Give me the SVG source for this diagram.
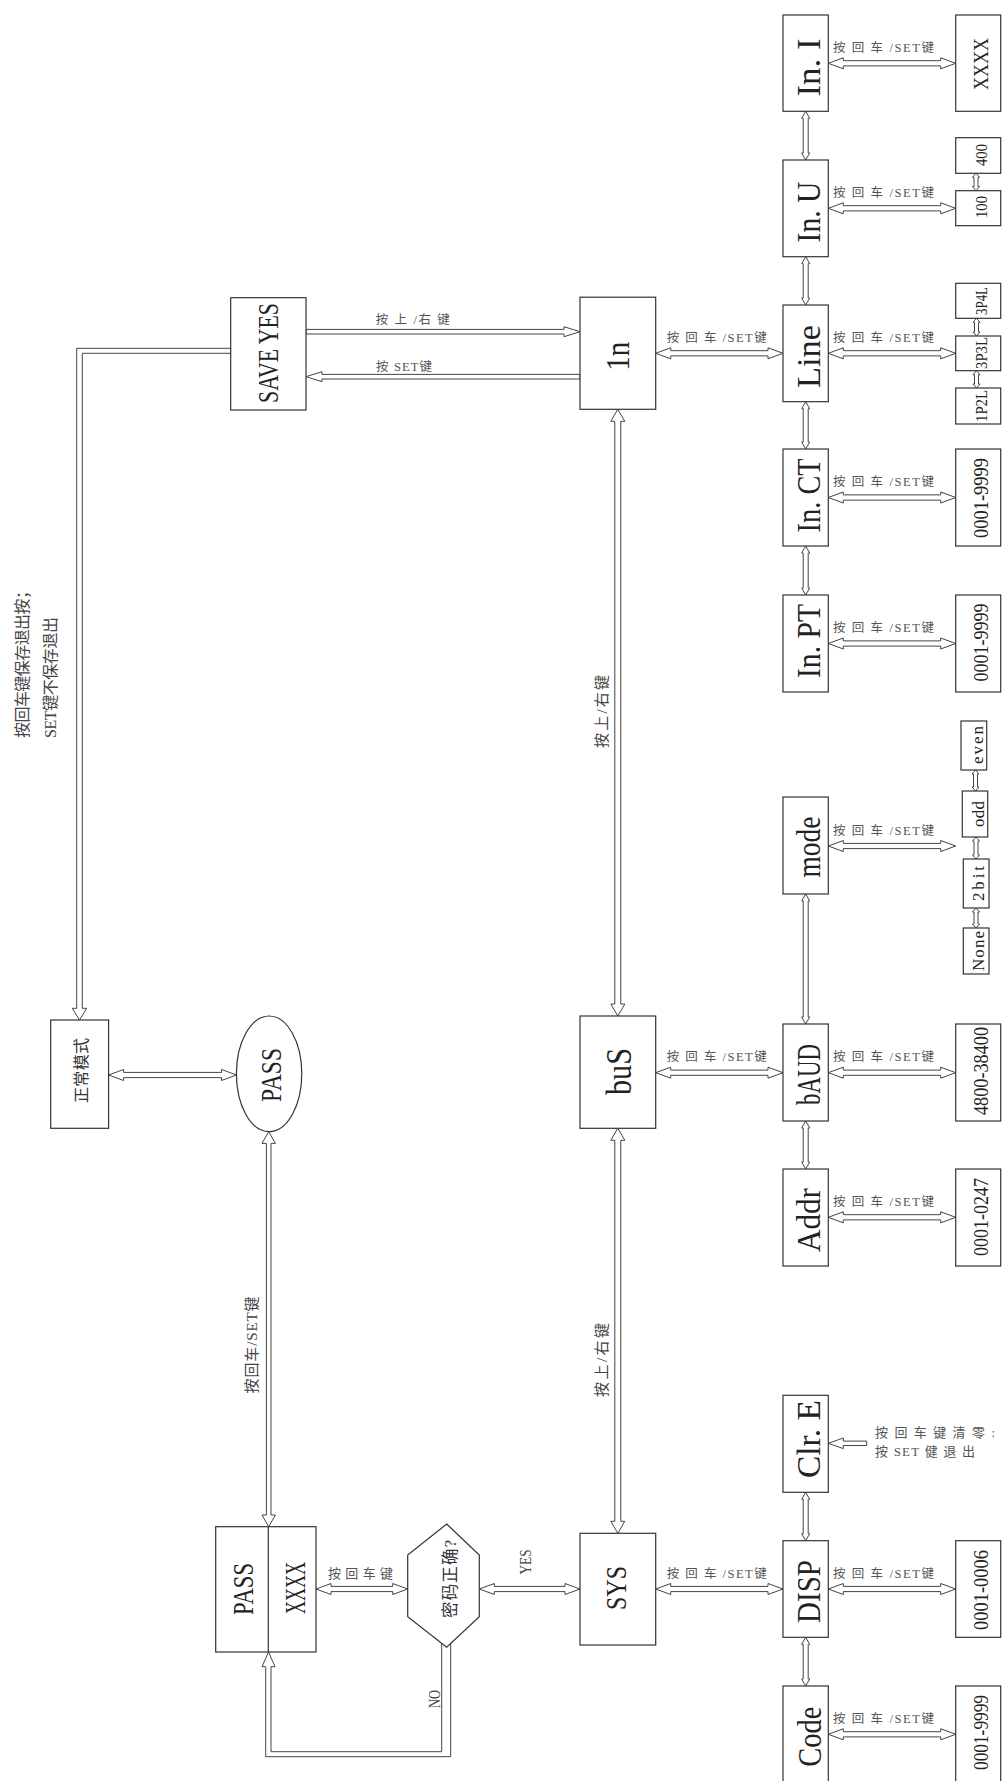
<svg xmlns="http://www.w3.org/2000/svg" width="1002" height="1781" viewBox="0 0 1002 1781">
<style>
.box{fill:#fff;stroke:#333;stroke-width:1.2}
.conn path{fill:#fff;stroke:#444;stroke-width:1}
.t{font-family:"Liberation Serif","Noto Sans CJK SC",serif;fill:#222;text-anchor:middle}
.a{font-size:34px}
.v{font-size:20px}
.s{font-size:17px}
.lbl{font-family:"Liberation Serif","Noto Sans CJK SC",serif;fill:#555;font-size:12.5px}
.vl{font-family:"Liberation Serif","Noto Sans CJK SC",serif;fill:#444;text-anchor:middle;font-size:15px}
</style>
<rect width="1002" height="1781" fill="#fff"/>
<g id="connectors" class="conn">
<path d="M828.3,63.3 l15,-5.5 v2.9 h97.4 v-2.9 l15,5.5 l-15,5.5 v-2.9 h-97.4 v2.9 z"/>
<path d="M828.3,208.3 l15,-5.5 v2.9 h97.4 v-2.9 l15,5.5 l-15,5.5 v-2.9 h-97.4 v2.9 z"/>
<path d="M828.3,353.3 l15,-5.5 v2.9 h97.4 v-2.9 l15,5.5 l-15,5.5 v-2.9 h-97.4 v2.9 z"/>
<path d="M828.3,497.5 l15,-5.5 v2.9 h97.4 v-2.9 l15,5.5 l-15,5.5 v-2.9 h-97.4 v2.9 z"/>
<path d="M828.3,643.5 l15,-5.5 v2.9 h97.4 v-2.9 l15,5.5 l-15,5.5 v-2.9 h-97.4 v2.9 z"/>
<path d="M828.3,846 l15,-5.5 v2.9 h97.4 v-2.9 l15,5.5 l-15,5.5 v-2.9 h-97.4 v2.9 z"/>
<path d="M828.3,1072.7 l15,-5.5 v2.9 h97.4 v-2.9 l15,5.5 l-15,5.5 v-2.9 h-97.4 v2.9 z"/>
<path d="M828.3,1217.3 l15,-5.5 v2.9 h97.4 v-2.9 l15,5.5 l-15,5.5 v-2.9 h-97.4 v2.9 z"/>
<path d="M828.3,1589 l15,-5.5 v2.9 h97.4 v-2.9 l15,5.5 l-15,5.5 v-2.9 h-97.4 v2.9 z"/>
<path d="M828.3,1734.3 l15,-5.5 v2.9 h97.4 v-2.9 l15,5.5 l-15,5.5 v-2.9 h-97.4 v2.9 z"/>
<path d="M655.7,353.3 l15,-5.5 v2.9 h97.3 v-2.9 l15,5.5 l-15,5.5 v-2.9 h-97.3 v2.9 z"/>
<path d="M655.7,1072.7 l15,-5.5 v2.9 h97.3 v-2.9 l15,5.5 l-15,5.5 v-2.9 h-97.3 v2.9 z"/>
<path d="M655.7,1589 l15,-5.5 v2.9 h97.3 v-2.9 l15,5.5 l-15,5.5 v-2.9 h-97.3 v2.9 z"/>
<path d="M108.6,1075 l15,-5.5 v2.9 h97.9 v-2.9 l15,5.5 l-15,5.5 v-2.9 h-97.9 v2.9 z"/>
<path d="M316,1589 l15,-5.5 v2.9 h61.7 v-2.9 l15,5.5 l-15,5.5 v-2.9 h-61.7 v2.9 z"/>
<path d="M479.3,1589 l15,-5.5 v2.9 h70.7 v-2.9 l15,5.5 l-15,5.5 v-2.9 h-70.7 v2.9 z"/>
<path d="M306,329.4 H564 V326.7 L580,331.7 L564,336.7 V334 H306 Z"/>
<path d="M580,374.4 H322 V371.7 L306,376.7 L322,381.7 V379 H580 Z"/>
<path d="M866.7,1441.1 H843.3 V1438 L828.3,1443.3 L843.3,1448.6 V1445.5 H866.7 Z"/>
<path d="M230.7,348.3 H76.7 V1008.3 H72.3 L79.5,1020 L86.7,1008.3 H82.3 V353.3 H230.7 Z"/>
<path d="M441.7,1640 V1751.7 H271 V1666.7 H275 L268.5,1652 L262,1666.7 H265.7 V1756.7 H450.7 V1640 Z"/>
<path d="M805.7,111.3 l4,7 h-1.5 v34.7 h1.5 l-4,7 l-4,-7 h1.5 v-34.7 h-1.5 z"/>
<path d="M805.7,256.7 l4,7 h-1.5 v34.3 h1.5 l-4,7 l-4,-7 h1.5 v-34.3 h-1.5 z"/>
<path d="M805.7,401.7 l4,7 h-1.5 v33.3 h1.5 l-4,7 l-4,-7 h1.5 v-33.3 h-1.5 z"/>
<path d="M805.7,546 l4,7 h-1.5 v35 h1.5 l-4,7 l-4,-7 h1.5 v-35 h-1.5 z"/>
<path d="M805.7,894 l4,7 h-1.5 v116 h1.5 l-4,7 l-4,-7 h1.5 v-116 h-1.5 z"/>
<path d="M805.7,1121 l4,7 h-1.5 v34 h1.5 l-4,7 l-4,-7 h1.5 v-34 h-1.5 z"/>
<path d="M805.7,1492.3 l4,7 h-1.5 v34.4 h1.5 l-4,7 l-4,-7 h1.5 v-34.4 h-1.5 z"/>
<path d="M805.7,1637.3 l4,7 h-1.5 v34.7 h1.5 l-4,7 l-4,-7 h1.5 v-34.7 h-1.5 z"/>
<path d="M976,173.3 l3.5,4 h-1.5 v9.4 h1.5 l-3.5,4 l-3.5,-4 h1.5 v-9.4 h-1.5 z"/>
<path d="M976.5,318.3 l3.5,4 h-1.5 v9.7 h1.5 l-3.5,4 l-3.5,-4 h1.5 v-9.7 h-1.5 z"/>
<path d="M976.5,370.7 l3.5,4 h-1.5 v9.3 h1.5 l-3.5,4 l-3.5,-4 h1.5 v-9.3 h-1.5 z"/>
<path d="M975.5,770 l3.5,4 h-1.5 v13 h1.5 l-3.5,4 l-3.5,-4 h1.5 v-13 h-1.5 z"/>
<path d="M976,837 l3.5,4 h-1.5 v14 h1.5 l-3.5,4 l-3.5,-4 h1.5 v-14 h-1.5 z"/>
<path d="M976,908 l3.5,4 h-1.5 v12 h1.5 l-3.5,4 l-3.5,-4 h1.5 v-12 h-1.5 z"/>
<path d="M617.8,409.3 l7,12 h-4 v582.7 h4 l-7,12 l-7,-12 h4 v-582.7 h-4 z"/>
<path d="M617.8,1128.3 l7,12 h-4 v381 h4 l-7,12 l-7,-12 h4 v-381 h-4 z"/>
<path d="M268.7,1131.7 l6.7,11.7 h-4.4 v371.6 h4.4 l-6.7,11.7 l-6.7,-11.7 h4.4 v-371.6 h-4.4 z"/>
</g>
<g id="connector-labels">
<text class="lbl" x="833" y="51.8" textLength="101">按 回 车 /SET键</text>
<text class="lbl" x="833" y="196.8" textLength="101">按 回 车 /SET键</text>
<text class="lbl" x="833" y="341.8" textLength="101">按 回 车 /SET键</text>
<text class="lbl" x="833" y="486" textLength="101">按 回 车 /SET键</text>
<text class="lbl" x="833" y="632" textLength="101">按 回 车 /SET键</text>
<text class="lbl" x="833" y="834.5" textLength="101">按 回 车 /SET键</text>
<text class="lbl" x="833" y="1061.2" textLength="101">按 回 车 /SET键</text>
<text class="lbl" x="833" y="1205.8" textLength="101">按 回 车 /SET键</text>
<text class="lbl" x="833" y="1577.5" textLength="101">按 回 车 /SET键</text>
<text class="lbl" x="833" y="1722.8" textLength="101">按 回 车 /SET键</text>
<text class="lbl" x="666.7" y="341.8" textLength="100">按 回 车 /SET键</text>
<text class="lbl" x="666.7" y="1061.2" textLength="100">按 回 车 /SET键</text>
<text class="lbl" x="666.7" y="1577.5" textLength="100">按 回 车 /SET键</text>
<text class="lbl" x="375.8" y="323.5" textLength="74">按 上 /右 键</text>
<text class="lbl" x="376" y="371" textLength="56">按 SET键</text>
<text class="lbl" x="328" y="1577.5" textLength="65" style="font-size:13px">按 回 车 键</text>
<text class="lbl" x="875" y="1437.3" textLength="120" style="font-size:13px">按 回 车 键 清 零 :</text>
<text class="lbl" x="875" y="1456" textLength="100" style="font-size:13px">按 SET 健 退 出</text>
<text class="vl" transform="translate(607,711.5) rotate(-90)" textLength="73">按上/右键</text>
<text class="vl" transform="translate(607,1360) rotate(-90)" textLength="74">按上/右键</text>
<text class="vl" transform="translate(256.5,1345) rotate(-90)" textLength="97">按回车/SET键</text>
<text class="vl" transform="translate(530.7,1562) rotate(-90)" textLength="25" lengthAdjust="spacingAndGlyphs" style="font-size:17px">YES</text>
<text class="vl" transform="translate(440,1699) rotate(-90)" textLength="18" lengthAdjust="spacingAndGlyphs" style="font-size:17px">NO</text>
<text class="vl" transform="translate(27.5,660.5) rotate(-90)" textLength="155" style="font-size:16px">按回车键保存退出按；</text>
<text class="vl" transform="translate(55.8,677.5) rotate(-90)" textLength="121" style="font-size:16px">SET键不保存退出</text>
</g>
<g id="n-saveyes"><rect class="box" x="230.7" y="297.7" width="75.3" height="112.3"/><text class="t" style="font-size:30px" transform="translate(277.8,353) rotate(-90)" textLength="100" lengthAdjust="spacingAndGlyphs">SAVE YES</text></g>
<g id="n-in"><rect class="box" x="580" y="297.2" width="75.7" height="112.1"/><text class="t" style="font-size:33px" transform="translate(629.3,356.2) rotate(-90)" textLength="29" lengthAdjust="spacingAndGlyphs">1n</text></g>
<g id="n-bus"><rect class="box" x="580" y="1016" width="75.7" height="112.3"/><text class="t" style="font-size:35px" transform="translate(631,1071.5) rotate(-90)" textLength="47" lengthAdjust="spacingAndGlyphs">buS</text></g>
<g id="n-sys"><rect class="box" x="580" y="1533.3" width="75.7" height="111.7"/><text class="t" style="font-size:30px" transform="translate(626,1588) rotate(-90)" textLength="44" lengthAdjust="spacingAndGlyphs">SYS</text></g>
<g id="n-normal"><rect class="box" x="50.7" y="1020" width="57.9" height="108.3"/><text class="t" style="font-size:16px;fill:#333" transform="translate(87.3,1070.5) rotate(-90)" textLength="65">正常模式</text></g>
<g id="n-pass"><ellipse class="box" cx="269.1" cy="1073.8" rx="32.7" ry="57.8"/><text class="t" style="font-size:30px" transform="translate(281,1075) rotate(-90)" textLength="54" lengthAdjust="spacingAndGlyphs">PASS</text></g>
<g id="n-passbox"><rect class="box" x="215.7" y="1526.7" width="100.3" height="125.3"/><line x1="268.3" y1="1526.7" x2="268.3" y2="1652" stroke="#333" stroke-width="1.2"/><text class="t" style="font-size:29px" transform="translate(252.7,1589) rotate(-90)" textLength="52" lengthAdjust="spacingAndGlyphs">PASS</text><text class="t" style="font-size:30px" transform="translate(305,1588) rotate(-90)" textLength="52" lengthAdjust="spacingAndGlyphs">XXXX</text></g>
<g id="n-check"><polygon class="box" points="446.7,1524 479.3,1555 479.3,1616.7 446.7,1647.3 407.7,1616.7 407.7,1555"/><text class="t" style="font-size:16.5px;fill:#333" transform="translate(455.5,1579) rotate(-90)" textLength="78">密码正确?</text></g>
<g id="n-ini"><rect class="box" x="783" y="15" width="45.3" height="96.3"/><text class="t a" transform="translate(820,67.5) rotate(-90)" textLength="58" lengthAdjust="spacingAndGlyphs">In. I</text></g>
<g id="n-inu"><rect class="box" x="783" y="160" width="45.3" height="96.7"/><text class="t a" transform="translate(820,212) rotate(-90)" textLength="61" lengthAdjust="spacingAndGlyphs">In. U</text></g>
<g id="n-line"><rect class="box" x="783" y="305" width="45.3" height="96.7"/><text class="t a" transform="translate(820,356.5) rotate(-90)" textLength="63" lengthAdjust="spacingAndGlyphs">Line</text></g>
<g id="n-inct"><rect class="box" x="783" y="449" width="45.3" height="97"/><text class="t a" transform="translate(820,495.4) rotate(-90)" textLength="74" lengthAdjust="spacingAndGlyphs">In. CT</text></g>
<g id="n-inpt"><rect class="box" x="783" y="595" width="45.3" height="97"/><text class="t a" transform="translate(820,641) rotate(-90)" textLength="74" lengthAdjust="spacingAndGlyphs">In. PT</text></g>
<g id="n-mode"><rect class="box" x="783" y="797" width="45.3" height="97"/><text class="t a" transform="translate(820,847) rotate(-90)" textLength="61" lengthAdjust="spacingAndGlyphs">mode</text></g>
<g id="n-baud"><rect class="box" x="783" y="1024" width="45.3" height="97"/><text class="t a" transform="translate(820,1074.5) rotate(-90)" textLength="61" lengthAdjust="spacingAndGlyphs">bAUD</text></g>
<g id="n-addr"><rect class="box" x="783" y="1169" width="45.3" height="97"/><text class="t a" transform="translate(820,1220) rotate(-90)" textLength="64" lengthAdjust="spacingAndGlyphs">Addr</text></g>
<g id="n-clre"><rect class="box" x="783" y="1395.3" width="45.3" height="97"/><text class="t a" transform="translate(820,1439) rotate(-90)" textLength="78" lengthAdjust="spacingAndGlyphs">Clr. E</text></g>
<g id="n-disp"><rect class="box" x="783" y="1540.7" width="45.3" height="96.6"/><text class="t a" transform="translate(820,1591.5) rotate(-90)" textLength="63" lengthAdjust="spacingAndGlyphs">DISP</text></g>
<g id="n-code"><rect class="box" x="783" y="1686" width="45.3" height="100"/><text class="t a" transform="translate(821,1736.7) rotate(-90)" textLength="60" lengthAdjust="spacingAndGlyphs">Code</text></g>
<g id="v-ini"><rect class="box" x="955.7" y="15" width="45" height="96.3"/><text class="t v" transform="translate(988,64) rotate(-90)" textLength="52" lengthAdjust="spacingAndGlyphs">XXXX</text></g>
<g id="v-400"><rect class="box" x="955.7" y="137.7" width="45" height="35.6"/><text class="t s" transform="translate(987,155) rotate(-90)" textLength="22" lengthAdjust="spacingAndGlyphs">400</text></g>
<g id="v-100"><rect class="box" x="955.7" y="190.7" width="45" height="35"/><text class="t s" transform="translate(987,207) rotate(-90)" textLength="22" lengthAdjust="spacingAndGlyphs">100</text></g>
<g id="v-3p4l"><rect class="box" x="955.7" y="283.3" width="45" height="35"/><text class="t" style="font-size:16px" transform="translate(987,301) rotate(-90)" textLength="28" lengthAdjust="spacingAndGlyphs">3P4L</text></g>
<g id="v-3p3l"><rect class="box" x="955.7" y="336" width="45" height="34.7"/><text class="t" style="font-size:16px" transform="translate(987,353) rotate(-90)" textLength="32" lengthAdjust="spacingAndGlyphs">3P3L</text></g>
<g id="v-1p2l"><rect class="box" x="955.7" y="388" width="45" height="36"/><text class="t" style="font-size:16px" transform="translate(987,406) rotate(-90)" textLength="32" lengthAdjust="spacingAndGlyphs">1P2L</text></g>
<g id="v-inct"><rect class="box" x="955.7" y="449" width="45" height="97"/><text class="t v" transform="translate(988,498) rotate(-90)" textLength="80" lengthAdjust="spacingAndGlyphs">0001-9999</text></g>
<g id="v-inpt"><rect class="box" x="955.7" y="595" width="45" height="97"/><text class="t v" transform="translate(988,642.5) rotate(-90)" textLength="78" lengthAdjust="spacingAndGlyphs">0001-9999</text></g>
<g id="v-even"><rect class="box" x="961" y="721" width="25.7" height="49"/><text class="t s" transform="translate(983,745) rotate(-90)" textLength="38">even</text></g>
<g id="v-odd"><rect class="box" x="962.3" y="791" width="25.4" height="46"/><text class="t s" transform="translate(983.5,814) rotate(-90)" textLength="26">odd</text></g>
<g id="v-2bit"><rect class="box" x="963.3" y="859" width="25.7" height="49"/><text class="t s" transform="translate(984,883.5) rotate(-90)" textLength="35">2bit</text></g>
<g id="v-none"><rect class="box" x="963.3" y="928" width="25.7" height="46"/><text class="t s" transform="translate(984,951) rotate(-90)" textLength="40">None</text></g>
<g id="v-baud"><rect class="box" x="955.7" y="1024" width="45" height="97"/><text class="t v" transform="translate(988,1071) rotate(-90)" textLength="88" lengthAdjust="spacingAndGlyphs">4800-38400</text></g>
<g id="v-addr"><rect class="box" x="955.7" y="1169" width="45" height="97"/><text class="t v" transform="translate(988,1217) rotate(-90)" textLength="78" lengthAdjust="spacingAndGlyphs">0001-0247</text></g>
<g id="v-disp"><rect class="box" x="955.7" y="1540.7" width="45" height="96.6"/><text class="t v" transform="translate(988,1590) rotate(-90)" textLength="80" lengthAdjust="spacingAndGlyphs">0001-0006</text></g>
<g id="v-code"><rect class="box" x="955.7" y="1686" width="45" height="100"/><text class="t v" transform="translate(988,1732.5) rotate(-90)" textLength="75" lengthAdjust="spacingAndGlyphs">0001-9999</text></g>
</svg>
